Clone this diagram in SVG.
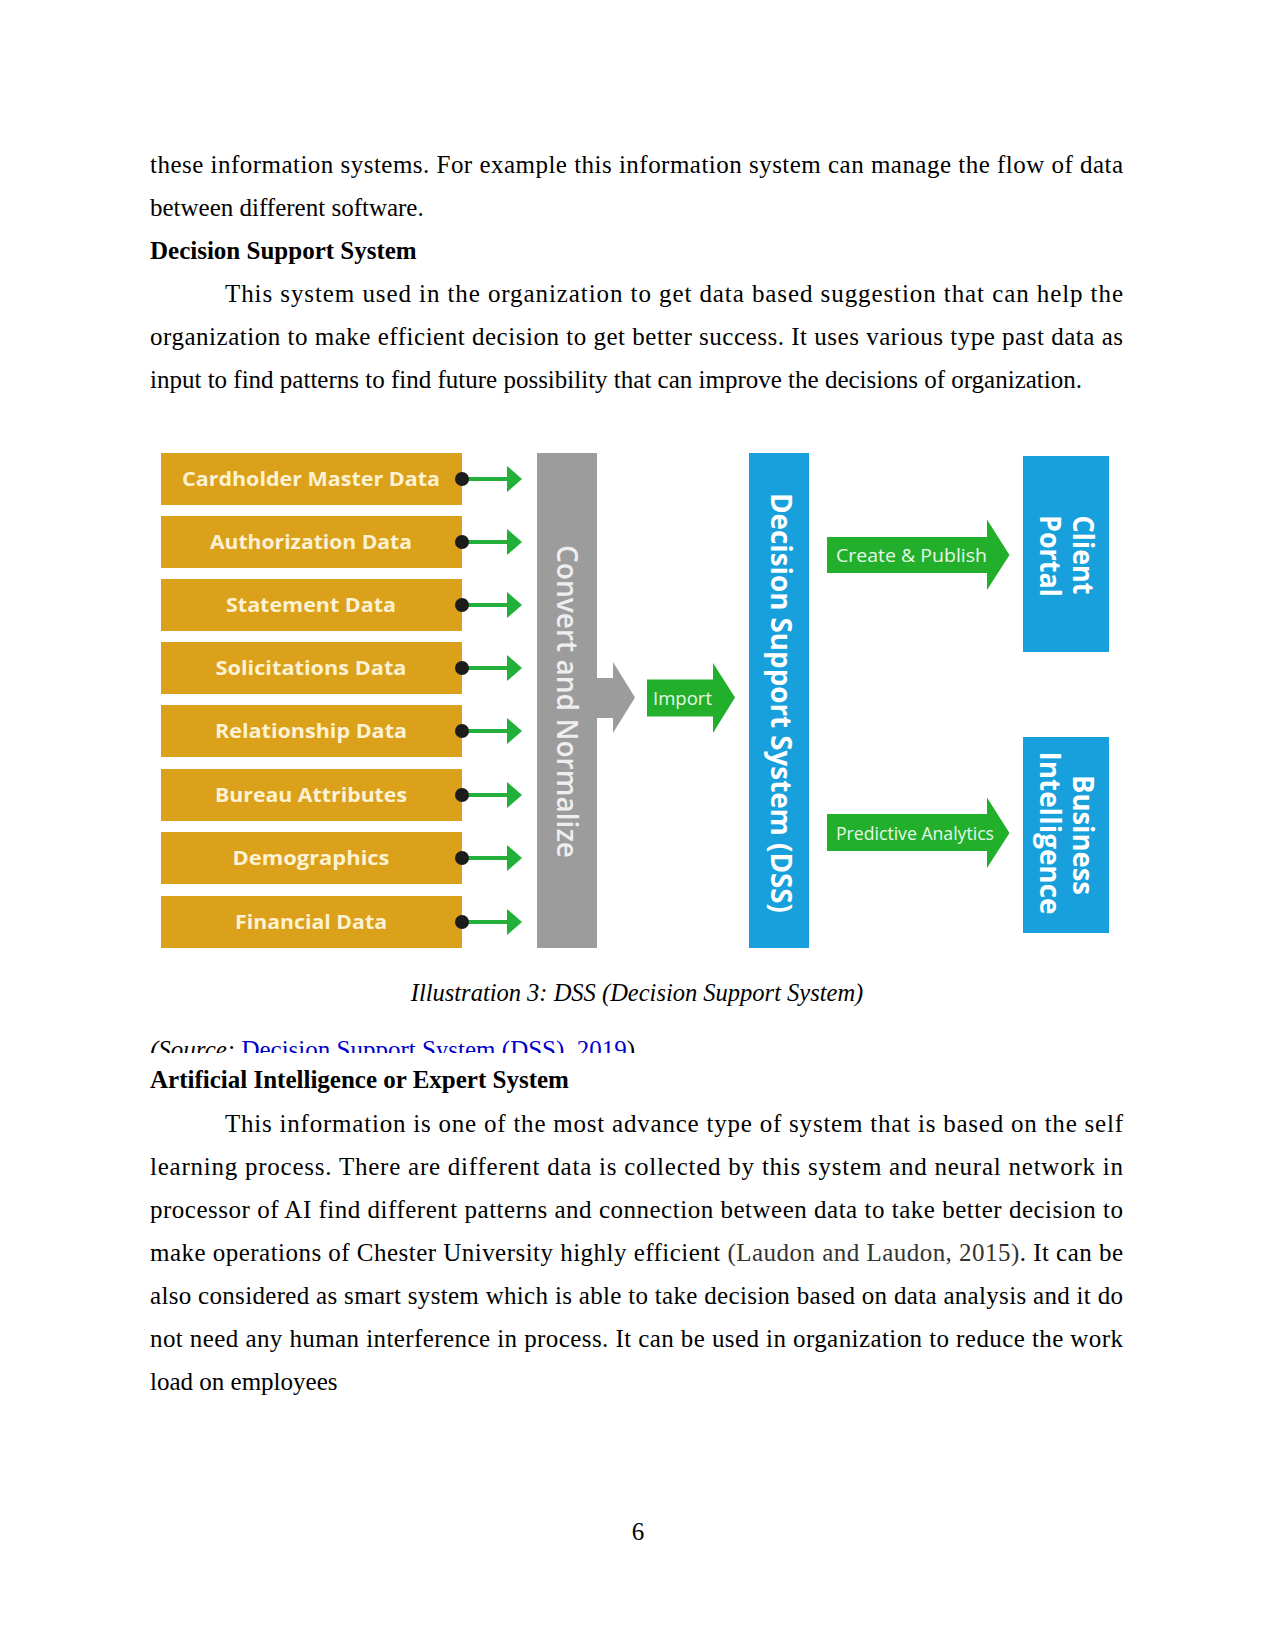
<svg xmlns="http://www.w3.org/2000/svg" width="1275" height="1651" viewBox="0 0 1275 1651">
<style>
.body{font-family:"Liberation Serif","Times New Roman",serif;font-size:25px;fill:#000}
.bold{font-weight:bold}
.ital{font-style:italic}
.src{fill:#0000cc}
.cite{fill:#333}
.obox{fill:#DBA11B}
.otxt{font-family:"Open Sans","Liberation Sans",sans-serif;font-weight:700;font-size:20px;fill:#FDF2D4;text-anchor:middle}
.vt{font-family:"Open Sans","Liberation Sans",sans-serif;font-weight:700;font-size:28px;fill:#fff;text-anchor:middle}
.gt{font-family:"Open Sans","Liberation Sans",sans-serif;font-weight:600;font-size:28px;fill:#EEEEEE;text-anchor:middle}
.at{font-family:"Open Sans","Liberation Sans",sans-serif;font-weight:400;font-size:18px;fill:#E6F7E6}
.blue{fill:#17A0DB}
.garrow{fill:#22B02C}
.conn{stroke:#22B03A;stroke-width:4;fill:none;marker-start:url(#dot);marker-end:url(#ah)}
</style>
<defs>
<marker id="ah" viewBox="0 0 15 26" refX="0" refY="13" markerWidth="15" markerHeight="26" markerUnits="userSpaceOnUse" orient="auto"><path d="M0,0 L15,13 L0,26 Z" fill="#22B03A"/></marker>
<marker id="dot" viewBox="0 0 14 14" refX="7" refY="7" markerWidth="14" markerHeight="14" markerUnits="userSpaceOnUse"><circle cx="7" cy="7" r="7" fill="#1c1c1c"/></marker>
<clipPath id="srcclip"><rect x="100" y="1025" width="700" height="28"/></clipPath>
</defs>
<rect width="1275" height="1651" fill="#fff"/>

<g id="text-top">
<text class="body" x="150" y="173" textLength="973" lengthAdjust="spacing">these information systems. For example this information system can manage the flow of data</text>
<text class="body" x="150" y="216">between different software.</text>
<text class="body bold" x="150" y="259">Decision Support System</text>
<text class="body" x="225" y="302" textLength="898" lengthAdjust="spacing">This system used in the organization to get data based suggestion that can help the</text>
<text class="body" x="150" y="345" textLength="973" lengthAdjust="spacing">organization to make efficient decision to get better success. It uses various type past data as</text>
<text class="body" x="150" y="388">input to find patterns to find future possibility that can improve the decisions of organization.</text>
</g>

<g id="node-cardholder"><rect class="obox" x="161" y="453" width="301" height="52"/><text class="otxt" x="311" y="486" textLength="258" lengthAdjust="spacingAndGlyphs">Cardholder Master Data</text></g>
<g id="node-authorization"><rect class="obox" x="161" y="516" width="301" height="52"/><text class="otxt" x="311" y="549" textLength="202" lengthAdjust="spacingAndGlyphs">Authorization Data</text></g>
<g id="node-statement"><rect class="obox" x="161" y="579" width="301" height="52"/><text class="otxt" x="311" y="612" textLength="170" lengthAdjust="spacingAndGlyphs">Statement Data</text></g>
<g id="node-solicitations"><rect class="obox" x="161" y="642" width="301" height="52"/><text class="otxt" x="311" y="675" textLength="191" lengthAdjust="spacingAndGlyphs">Solicitations Data</text></g>
<g id="node-relationship"><rect class="obox" x="161" y="705" width="301" height="52"/><text class="otxt" x="311" y="738" textLength="192" lengthAdjust="spacingAndGlyphs">Relationship Data</text></g>
<g id="node-bureau"><rect class="obox" x="161" y="769" width="301" height="52"/><text class="otxt" x="311" y="802" textLength="192" lengthAdjust="spacingAndGlyphs">Bureau Attributes</text></g>
<g id="node-demographics"><rect class="obox" x="161" y="832" width="301" height="52"/><text class="otxt" x="311" y="865" textLength="157" lengthAdjust="spacingAndGlyphs">Demographics</text></g>
<g id="node-financial"><rect class="obox" x="161" y="896" width="301" height="52"/><text class="otxt" x="311" y="929" textLength="152" lengthAdjust="spacingAndGlyphs">Financial Data</text></g>

<g id="node-convert">
<rect x="537" y="453" width="60" height="495" fill="#9C9C9C"/>
<polygon points="596,678 613,678 613,662 635,697.5 613,733 613,718 596,718" fill="#9C9C9C"/>
<text class="gt" transform="translate(557,701.5) rotate(90)" textLength="313" lengthAdjust="spacingAndGlyphs">Convert and Normalize</text>
</g>

<g id="node-dss">
<rect class="blue" x="749" y="453" width="60" height="495"/>
<text class="vt" transform="translate(771,703) rotate(90)" textLength="420" lengthAdjust="spacingAndGlyphs">Decision Support System (DSS)</text>
</g>

<g id="node-client">
<rect class="blue" x="1023" y="456" width="86" height="196"/>
<text class="vt" transform="translate(1073,555) rotate(90)" textLength="79" lengthAdjust="spacingAndGlyphs">Client</text>
<text class="vt" transform="translate(1040,556) rotate(90)" textLength="82" lengthAdjust="spacingAndGlyphs">Portal</text>
</g>

<g id="node-bi">
<rect class="blue" x="1023" y="737" width="86" height="196"/>
<text class="vt" transform="translate(1073,835) rotate(90)" textLength="120" lengthAdjust="spacingAndGlyphs">Business</text>
<text class="vt" transform="translate(1040,833) rotate(90)" textLength="163" lengthAdjust="spacingAndGlyphs">Intelligence</text>
</g>

<g id="connectors">
<path class="conn" d="M462,479 H507"/>
<path class="conn" d="M462,542 H507"/>
<path class="conn" d="M462,605 H507"/>
<path class="conn" d="M462,668 H507"/>
<path class="conn" d="M462,731 H507"/>
<path class="conn" d="M462,795 H507"/>
<path class="conn" d="M462,858 H507"/>
<path class="conn" d="M462,922 H507"/>
<g id="arrow-import">
<polygon class="garrow" points="647,679.5 713,679.5 713,663 735,697.5 713,733 713,716.5 647,716.5"/>
<text class="at" x="653" y="705" textLength="59" lengthAdjust="spacingAndGlyphs">Import</text>
</g>
<g id="arrow-create">
<polygon class="garrow" points="827,537 987,537 987,519.5 1009.5,555 987,590 987,573 827,573"/>
<text class="at" x="836" y="562" textLength="151" lengthAdjust="spacingAndGlyphs">Create &amp; Publish</text>
</g>
<g id="arrow-predictive">
<polygon class="garrow" points="827,814 987,814 987,797.5 1009.5,833 987,868 987,851 827,851"/>
<text class="at" x="836" y="839.5" textLength="158" lengthAdjust="spacingAndGlyphs">Predictive Analytics</text>
</g>
</g>

<g id="caption">
<text class="body ital" x="637" y="1001" text-anchor="middle" style="font-size:24.5px">Illustration 3: DSS (Decision Support System)</text>
<text class="body" x="150" y="1058" clip-path="url(#srcclip)"><tspan class="ital">(Source: </tspan><tspan class="src">Decision Support System (DSS), 2019</tspan>)</text>
</g>

<g id="text-bottom">
<text class="body bold" x="150" y="1088">Artificial Intelligence or Expert System</text>
<text class="body" x="225" y="1131.5" textLength="898" lengthAdjust="spacing">This information is one of the most advance type of system that is based on the self</text>
<text class="body" x="150" y="1174.5" textLength="973" lengthAdjust="spacing">learning process. There are different data is collected by this system and neural network in</text>
<text class="body" x="150" y="1217.5" textLength="973" lengthAdjust="spacing">processor of AI find different patterns and connection between data to take better decision to</text>
<text class="body" x="150" y="1260.5" textLength="973" lengthAdjust="spacing">make operations of Chester University highly efficient <tspan class="cite">(Laudon and Laudon, 2015)</tspan>. It can be</text>
<text class="body" x="150" y="1303.5" textLength="973" lengthAdjust="spacing">also considered as smart system which is able to take decision based on data analysis and it do</text>
<text class="body" x="150" y="1346.5" textLength="973" lengthAdjust="spacing">not need any human interference in process. It can be used in organization to reduce the work</text>
<text class="body" x="150" y="1389.5">load on employees</text>
<text class="body" x="638" y="1540" text-anchor="middle">6</text>
</g>
</svg>
